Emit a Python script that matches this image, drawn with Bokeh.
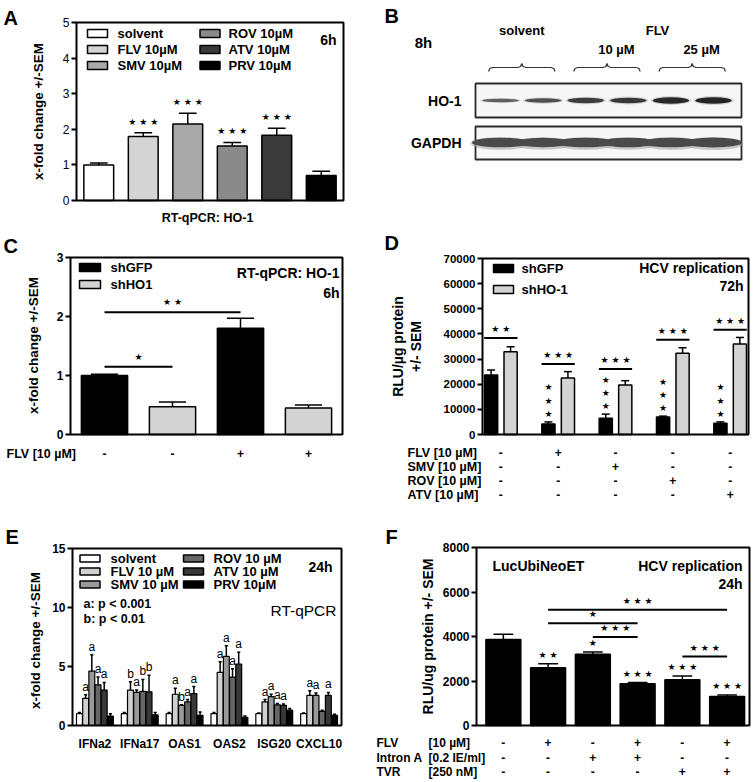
import math
from bokeh.plotting import figure
from bokeh.models import Range1d, FixedTicker, Label, LinearAxis
from bokeh.layouts import column, row
from bokeh.embed import file_html
from bokeh.resources import INLINE

FONT = "Liberation Sans"
STAR = "DejaVu Sans"

# ---------------- data ----------------
# Panel A : RT-qPCR HO-1, 6h
a_labels = ["solvent", "FLV 10µM", "SMV 10µM", "ROV 10µM", "ATV 10µM", "PRV 10µM"]
a_values = [1.0, 1.80, 2.15, 1.53, 1.83, 0.70]
a_errors = [0.05, 0.10, 0.30, 0.10, 0.20, 0.12]
a_stars = ["", "★ ★ ★", "★ ★ ★", "★ ★ ★", "★ ★ ★", ""]
a_colors = ["#ffffff", "#d4d4d4", "#a9a9a9", "#8a8a8a", "#3a3a3a", "#000000"]
a_yticks = [0, 1, 2, 3, 4, 5]

# Panel B : western blot, 8h
b_groups = ["solvent", "10 µM", "25 µM"]
b_ho1_intensity = [0.40, 0.55, 0.72, 0.76, 0.90, 0.95]
b_gapdh_intensity = [0.80, 0.78, 0.80, 0.79, 0.80, 0.82]

# Panel C : RT-qPCR HO-1 knock-down
c_series = ["shGFP", "shHO1"]
c_values = [1.00, 0.47, 1.80, 0.45]
c_errors = [0.02, 0.08, 0.17, 0.05]
c_colors = ["#000000", "#d3d3d3", "#000000", "#d3d3d3"]
c_flv = ["-", "-", "+", "+"]
c_sig_from = [0, 0]
c_sig_to = [1, 2]
c_sig_height = [1.15, 2.07]
c_sig_stars = ["★", "★ ★"]
c_yticks = [0, 1, 2, 3]

# Panel D : HCV replication 72h
d_series = ["shGFP", "shHO-1"]
d_gfp = [23700, 4200, 6500, 7000, 4500]
d_gfp_err = [2000, 800, 1600, 300, 500]
d_ho1 = [32900, 22500, 19700, 32300, 36000]
d_ho1_err = [2000, 2500, 1700, 2200, 2600]
d_sig_height = [38400, 28000, 26100, 37700, 41700]
d_sig_stars = ["★ ★", "★ ★ ★", "★ ★ ★", "★ ★ ★", "★ ★ ★"]
d_gfp_star_count = [0, 3, 3, 3, 3]
d_row_names = ["FLV [10 µM]", "SMV [10 µM]", "ROV [10 µM]", "ATV [10 µM]"]
d_row_signs = [["-", "+", "-", "-", "-"],
               ["-", "-", "+", "-", "-"],
               ["-", "-", "-", "+", "-"],
               ["-", "-", "-", "-", "+"]]
d_yticks = [0, 10000, 20000, 30000, 40000, 50000, 60000, 70000]

# Panel E : ISG RT-qPCR 24h
e_genes = ["IFNa2", "IFNa17", "OAS1", "OAS2", "ISG20", "CXCL10"]
e_series = ["solvent", "FLV 10 µM", "SMV 10 µM", "ROV 10 µM", "ATV 10 µM", "PRV 10µM"]
e_colors = ["#ffffff", "#d0d0d0", "#9a9a9a", "#666666", "#383838", "#000000"]
e_solvent = [1.0, 1.0, 1.0, 1.0, 1.0, 1.0]
e_solvent_err = [0.1, 0.1, 0.1, 0.1, 0.05, 0.05]
e_flv = [2.3, 3.0, 2.65, 4.5, 2.0, 2.55]
e_flv_err = [0.3, 0.7, 0.5, 0.9, 0.2, 0.4]
e_smv = [4.6, 2.8, 1.7, 5.85, 2.45, 2.55]
e_smv_err = [1.4, 0.2, 0.05, 0.9, 0.2, 0.2]
e_rov = [3.45, 2.9, 2.0, 4.1, 1.75, 1.2]
e_rov_err = [0.65, 1.0, 0.2, 0.7, 0.12, 0.1]
e_atv = [3.0, 2.85, 2.7, 5.2, 1.7, 2.55]
e_atv_err = [0.65, 1.4, 0.6, 1.0, 0.12, 0.25]
e_prv = [0.8, 0.9, 0.85, 0.7, 1.3, 0.85]
e_prv_err = [0.2, 0.2, 0.3, 0.1, 0.15, 0.1]
e_sig_flv = ["a", "b", "a", "a", "a", "a"]
e_sig_smv = ["a", "a", "b", "a", "a", "a"]
e_sig_rov = ["a", "b", "a", "a", "a", ""]
e_sig_atv = ["a", "b", "a", "a", "a", "a"]
e_yticks = [0, 5, 10, 15]

# Panel F : LucUbiNeoET HCV replication 24h
f_values = [3870, 2600, 3200, 1880, 2060, 1300]
f_errors = [230, 170, 100, 50, 170, 70]
f_stars = ["", "★ ★", "★", "★ ★ ★", "★ ★ ★", "★ ★ ★"]
f_sig_from = [1, 1, 2, 4]
f_sig_to = [5, 3, 3, 5]
f_sig_height = [5200, 4600, 3980, 3100]
f_sig_stars = ["★ ★ ★", "★", "★ ★ ★", "★ ★ ★"]
f_row_names = ["FLV", "Intron A", "TVR"]
f_row_conc = ["[10 µM]", "[0.2 IE/ml]", "[250 nM]"]
f_row_signs = [["-", "+", "-", "+", "-", "+"],
               ["-", "-", "+", "+", "-", "-"],
               ["-", "-", "-", "-", "+", "+"]]
f_yticks = [0, 2000, 4000, 6000, 8000]


# ---------------- helpers ----------------
def make_panel(win, frame, xr, yr, yticks=None, tick_size="12px", tick_bold=True):
    """Figure spanning `win` (page px); the plotting box `frame` maps to xr/yr."""
    x0w, y0w, x1w, y1w = win
    fl, ft, fr, fb = frame
    sx = (xr[1] - xr[0]) / (fr - fl)
    sy = (yr[1] - yr[0]) / (fb - ft)

    def X(xw):
        return xr[0] + (xw - fl) * sx

    def Y(yw):
        return yr[0] + (fb - yw) * sy

    p = figure(width=x1w - x0w, height=y1w - y0w,
               x_range=Range1d(X(x0w), X(x1w)), y_range=Range1d(Y(y1w), Y(y0w)),
               output_backend="svg", toolbar_location=None,
               x_axis_location=None, y_axis_location=None,
               min_border_left=0, min_border_right=0,
               min_border_top=0, min_border_bottom=0)
    p.grid.visible = False
    p.background_fill_color = "white"
    p.border_fill_color = "white"
    p.outline_line_color = None
    if yticks is not None:
        ax = LinearAxis(fixed_location=xr[0], bounds=(yr[0], yr[1]),
                        ticker=FixedTicker(ticks=yticks))
        ax.axis_line_color = None
        ax.major_tick_line_width = 2
        ax.major_tick_line_color = "black"
        ax.major_tick_out = 5
        ax.major_tick_in = 0
        ax.minor_tick_line_color = None
        ax.major_label_standoff = 2
        ax.major_label_text_font = FONT
        ax.major_label_text_font_size = tick_size
        ax.major_label_text_font_style = "bold" if tick_bold else "normal"
        ax.major_label_text_color = "black"
        p.add_layout(ax, "left")
    return p, X, Y


def outline(p, xr, yr):
    p.quad(left=[xr[0]], right=[xr[1]], bottom=[yr[0]], top=[yr[1]],
           fill_color=None, line_color="black", line_width=2)


def label(p, x, y, text, size="12px", bold=True, align="left", baseline="middle",
          angle=0.0, font=FONT, x_offset=0, y_offset=0, color="black"):
    p.add_layout(Label(x=x, y=y, text=text, text_font=font, text_font_size=size,
                       text_font_style=("bold" if bold else "normal"),
                       text_align=align, text_baseline=baseline, angle=angle,
                       x_offset=x_offset, y_offset=y_offset, text_color=color))


def stars(p, x, y, text, y_offset=10, size="9px"):
    label(p, x, y, text, size=size, bold=False, align="center", baseline="middle",
          font=STAR, y_offset=y_offset)


def errbars(p, xs, vals, errs, cap):
    tops = [v + e for v, e in zip(vals, errs)]
    p.segment(x0=xs, y0=vals, x1=xs, y1=tops, line_color="black", line_width=1.5)
    p.segment(x0=[x - cap for x in xs], y0=tops, x1=[x + cap for x in xs], y1=tops,
              line_color="black", line_width=1.5)


# ================= Panel A =================
A_XR, A_YR = (-0.5, 5.5), (0, 5)
pA, XA, YA = make_panel((0, 0, 360, 232), (76, 22, 343, 200), A_XR, A_YR,
                        yticks=a_yticks, tick_size="12px", tick_bold=False)
xa = list(range(len(a_values)))
errbars(pA, xa, a_values, a_errors, 0.2)
pA.vbar(x=xa, top=a_values, width=0.67, fill_color=a_colors, line_color="black", line_width=1.5)
for i, s in enumerate(a_stars):
    if s:
        stars(pA, xa[i], a_values[i] + a_errors[i], s, y_offset=11)
leg_x = [97, 97, 97, 209.5, 209.5, 209.5]
leg_y = [33, 49, 65, 33, 49, 65]
leg_tx = [117, 117, 117, 228, 228, 228]
pA.rect(x=[XA(v) for v in leg_x], y=[YA(v) for v in leg_y], width=20, height=8,
        width_units="screen", height_units="screen", fill_color=a_colors,
        line_color="black", line_width=1.5)
for i, t in enumerate(a_labels):
    label(pA, XA(leg_tx[i]), YA(leg_y[i]), t, size="13px")
label(pA, XA(336), YA(39), "6h", size="14px", align="right")
label(pA, XA(207), YA(217), "RT-qPCR: HO-1", size="12.5px", align="center")
label(pA, XA(38), YA(111), "x-fold change +/-SEM", size="13.5px", align="center",
      angle=math.pi / 2)
label(pA, XA(3), YA(6), "A", size="20px", baseline="top")
outline(pA, A_XR, A_YR)

# ================= Panel B =================
LANE0, PITCH = 500.0, 42.6
bx0, bx1 = (360 - LANE0) / PITCH, (754 - LANE0) / PITCH
pB = figure(width=394, height=232, x_range=Range1d(bx0, bx1), y_range=Range1d(232, 0),
            output_backend="svg", toolbar_location=None, x_axis_location=None,
            y_axis_location=None, min_border_left=0, min_border_right=0,
            min_border_top=0, min_border_bottom=0)
pB.grid.visible = False
pB.outline_line_color = None
pB.background_fill_color = "white"
pB.border_fill_color = "white"


def LX(xw):
    return (xw - LANE0) / PITCH


lanes = list(range(len(b_ho1_intensity)))
pB.quad(left=[LX(475), LX(475)], right=[LX(741), LX(741)],
        top=[83, 126], bottom=[117, 159],
        fill_color="#f7f7f7", line_color="#2a2a2a", line_width=1.8)
pB.ellipse(x=lanes, y=[143 for _ in lanes], width=1.4,
           height=[16 * g for g in b_gapdh_intensity], fill_color="#9a9a9a",
           fill_alpha=0.5, line_color=None)
pB.ellipse(x=lanes, y=[142 for _ in lanes], width=1.35,
           height=[12 * g for g in b_gapdh_intensity], fill_color="#4a4a4a",
           line_color=None)
ho_cols = []
for v in b_ho1_intensity:
    g = int(30 + (1 - v) * 110)
    ho_cols.append("#%02x%02x%02x" % (g, g, g))
pB.ellipse(x=lanes, y=[100 for _ in lanes], width=0.95,
           height=[2.5 + 7 * v for v in b_ho1_intensity], fill_color="#b0b0b0",
           fill_alpha=0.5, line_color=None)
pB.ellipse(x=lanes, y=[100 for _ in lanes], width=0.85,
           height=[1.0 + 6 * v for v in b_ho1_intensity], fill_color=ho_cols,
           line_color=None)
d = 4.0 / PITCH
for gi in range(3):
    xa0 = 2 * gi - 0.28
    xa1 = 2 * gi + 1 + 0.28
    xcm = (xa0 + xa1) / 2
    yb = 67
    bxs = [xa0, xa0 + 0.3 * d, xa0 + d, xcm - d, xcm - 0.3 * d, xcm, xcm + 0.3 * d, xcm + d,
           xa1 - d, xa1 - 0.3 * d, xa1]
    bys = [yb + 4, yb + 1, yb, yb, yb - 1, yb - 4, yb - 1, yb, yb, yb + 1, yb + 4]
    pB.line(x=bxs, y=bys, line_color="#333333", line_width=1.2)
label(pB, LX(384), 4, "B", size="20px", baseline="top")
label(pB, LX(423), 42, "8h", size="15px", align="center")
label(pB, 0.5, 30, b_groups[0], size="13px", align="center")
label(pB, LX(657), 30, "FLV", size="13px", align="center")
label(pB, 2.5 + 0.22, 49, b_groups[1], size="13px", align="center")
label(pB, 4.5 + 0.22, 49, b_groups[2], size="13px", align="center")
label(pB, LX(461), 100, "HO-1", size="14px", align="right")
label(pB, LX(461), 142, "GAPDH", size="14px", align="right")

# ================= Panel C =================
C_XR, C_YR = (-0.5, 3.5), (0, 3)
pC, XC, YC = make_panel((0, 232, 360, 515), (70, 257, 342, 434), C_XR, C_YR,
                        yticks=c_yticks, tick_size="12px")
xc = list(range(len(c_values)))
errbars(pC, xc, c_values, c_errors, 0.2)
pC.vbar(x=xc, top=c_values, width=0.68, fill_color=c_colors, line_color="black", line_width=1.5)
for k in range(len(c_sig_from)):
    pC.segment(x0=[xc[c_sig_from[k]]], y0=[c_sig_height[k]], x1=[xc[c_sig_to[k]]],
               y1=[c_sig_height[k]], line_color="black", line_width=2)
    stars(pC, (xc[c_sig_from[k]] + xc[c_sig_to[k]]) / 2, c_sig_height[k], c_sig_stars[k],
          y_offset=10)
pC.rect(x=[XC(89.5), XC(89.5)], y=[YC(267), YC(284)], width=21, height=8,
        width_units="screen", height_units="screen", fill_color=["#000000", "#d3d3d3"],
        line_color="black", line_width=1.5)
label(pC, XC(110), YC(267), c_series[0], size="13px")
label(pC, XC(110), YC(284), c_series[1], size="13px")
label(pC, XC(339), YC(272), "RT-qPCR: HO-1", size="14px", align="right")
label(pC, XC(339), YC(292), "6h", size="14px", align="right")
label(pC, XC(6), YC(453), "FLV [10 µM]", size="12.5px")
for i, s in enumerate(c_flv):
    label(pC, xc[i], YC(453), s, size="12px", align="center")
label(pC, XC(33), YC(345), "x-fold change +/-SEM", size="13.5px", align="center",
      angle=math.pi / 2)
label(pC, XC(3), YC(234), "C", size="20px", baseline="top")
outline(pC, C_XR, C_YR)

# ================= Panel D =================
D_XR, D_YR = (-0.32, 4.32), (0, 70000)
pD, XD, YD = make_panel((360, 232, 754, 515), (482, 258, 748, 434), D_XR, D_YR,
                        yticks=d_yticks, tick_size="11.5px")
xd = list(range(len(d_gfp)))
xg = [x - 0.17 for x in xd]
xh = [x + 0.17 for x in xd]
errbars(pD, xg, d_gfp, d_gfp_err, 0.07)
errbars(pD, xh, d_ho1, d_ho1_err, 0.07)
pD.vbar(x=xg, top=d_gfp, width=0.23, fill_color="#000000", line_color="black", line_width=1.5)
pD.vbar(x=xh, top=d_ho1, width=0.23, fill_color="#d3d3d3", line_color="black", line_width=1.5)
pD.segment(x0=[x - 0.29 for x in xd], y0=d_sig_height, x1=[x + 0.29 for x in xd],
           y1=d_sig_height, line_color="black", line_width=2)
for i in xd:
    stars(pD, xd[i], d_sig_height[i], d_sig_stars[i], y_offset=9)
    for k in range(d_gfp_star_count[i]):
        stars(pD, xg[i], d_gfp[i] + d_gfp_err[i], "★", y_offset=8 + 13.3 * k)
pD.rect(x=[XD(503), XD(503)], y=[YD(268), YD(289)], width=20, height=8,
        width_units="screen", height_units="screen", fill_color=["#000000", "#d3d3d3"],
        line_color="black", line_width=1.5)
label(pD, XD(521), YD(268), d_series[0], size="13px")
label(pD, XD(521), YD(289), d_series[1], size="13px")
label(pD, XD(743), YD(267), "HCV replication", size="14px", align="right")
label(pD, XD(743), YD(285), "72h", size="14px", align="right")
label(pD, XD(397), YD(346), "RLU/µg protein", size="14px", align="center", angle=math.pi / 2)
label(pD, XD(415), YD(346), "+/- SEM", size="14px", align="center", angle=math.pi / 2)
row_y = [452, 466, 480, 494]
for r, name in enumerate(d_row_names):
    label(pD, XD(407), YD(row_y[r]), name, size="12.5px")
    for i, s in enumerate(d_row_signs[r]):
        label(pD, xd[i], YD(row_y[r]), s, size="12px", align="center")
label(pD, XD(384), YD(231), "D", size="20px", baseline="top")
outline(pD, D_XR, D_YR)

# ================= Panel E =================
E_XR, E_YR = (-0.5, 5.5), (0, 15)
pE, XE, YE = make_panel((0, 515, 360, 782), (72, 548, 341, 725), E_XR, E_YR,
                        yticks=e_yticks, tick_size="12px")
xe = list(range(len(e_genes)))
e_vals = [e_solvent, e_flv, e_smv, e_rov, e_atv, e_prv]
e_errs = [e_solvent_err, e_flv_err, e_smv_err, e_rov_err, e_atv_err, e_prv_err]
e_sigs = [None, e_sig_flv, e_sig_smv, e_sig_rov, e_sig_atv, None]
for k in range(6):
    xs = [x + (k - 2.5) * 0.138 for x in xe]
    errbars(pE, xs, e_vals[k], e_errs[k], 0.035)
    pE.vbar(x=xs, top=e_vals[k], width=0.132, fill_color=e_colors[k], line_color="black",
            line_width=1.2)
    if e_sigs[k]:
        for i, s in enumerate(e_sigs[k]):
            if s:
                label(pE, xs[i], e_vals[k][i] + e_errs[k][i], s, size="12px", bold=False,
                      align="center", baseline="bottom", y_offset=1)
leg_ex = [89.5, 89.5, 89.5, 193, 193, 193]
leg_ey = [558, 571, 584, 558, 571, 584]
leg_etx = [110, 110, 110, 213, 213, 213]
pE.rect(x=[XE(v) for v in leg_ex], y=[YE(v) for v in leg_ey], width=20, height=7,
        width_units="screen", height_units="screen", fill_color=e_colors,
        line_color="black", line_width=1.5)
for i, t in enumerate(e_series):
    label(pE, XE(leg_etx[i]), YE(leg_ey[i]), t, size="13px")
label(pE, XE(332), YE(566), "24h", size="14px", align="right")
label(pE, XE(83), YE(603), "a: p < 0.001", size="12.5px")
label(pE, XE(83), YE(618), "b: p < 0.01", size="12.5px")
label(pE, XE(336), YE(610), "RT-qPCR", size="15.5px", bold=False, align="right")
for i, g in enumerate(e_genes):
    label(pE, xe[i], YE(743), g, size="12px", align="center")
label(pE, XE(35), YE(640), "x-fold change +/-SEM", size="13.5px", align="center",
      angle=math.pi / 2)
label(pE, XE(5), YE(525), "E", size="20px", baseline="top")
outline(pE, E_XR, E_YR)

# ================= Panel F =================
F_XR, F_YR = (-0.6, 5.5), (0, 8000)
pF, XF, YF = make_panel((360, 515, 754, 782), (476, 547, 749, 725), F_XR, F_YR,
                        yticks=f_yticks, tick_size="12px")
xf = list(range(len(f_values)))
errbars(pF, xf, f_values, f_errors, 0.22)
pF.vbar(x=xf, top=f_values, width=0.78, fill_color="#000000", line_color="black", line_width=1.5)
for i, s in enumerate(f_stars):
    if s:
        stars(pF, xf[i], f_values[i] + f_errors[i], s, y_offset=9)
for k in range(len(f_sig_from)):
    pF.segment(x0=[xf[f_sig_from[k]]], y0=[f_sig_height[k]], x1=[xf[f_sig_to[k]]],
               y1=[f_sig_height[k]], line_color="black", line_width=2)
    stars(pF, (xf[f_sig_from[k]] + xf[f_sig_to[k]]) / 2, f_sig_height[k], f_sig_stars[k],
          y_offset=9)
label(pF, XF(492), YF(565), "LucUbiNeoET", size="14px")
label(pF, XF(742), YF(565), "HCV replication", size="14px", align="right")
label(pF, XF(742), YF(583), "24h", size="14px", align="right")
label(pF, XF(427), YF(636), "RLU/ug protein +/- SEM", size="14px", align="center",
      angle=math.pi / 2)
frow_y = [742, 757, 771]
for r in range(3):
    label(pF, XF(376), YF(frow_y[r]), f_row_names[r], size="12px")
    label(pF, XF(428), YF(frow_y[r]), f_row_conc[r], size="12px")
    for i, s in enumerate(f_row_signs[r]):
        label(pF, xf[i], YF(frow_y[r]), s, size="12px", align="center")
label(pF, XF(385), YF(525), "F", size="20px", baseline="top")
outline(pF, F_XR, F_YR)

layout = column(row(pA, pB), row(pC, pD), row(pE, pF))
open("out.html", "w").write(file_html(layout, INLINE))
